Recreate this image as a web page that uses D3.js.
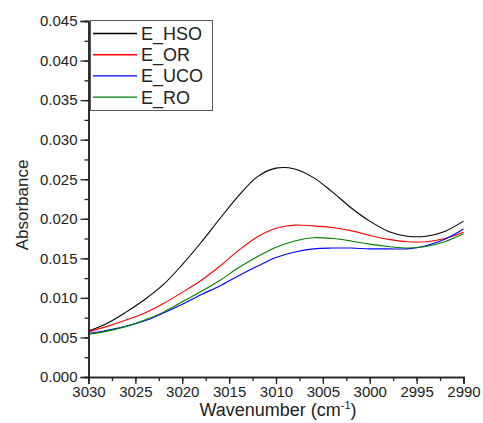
<!DOCTYPE html>
<html>
<head>
<meta charset="utf-8">
<script src="https://cdn.jsdelivr.net/npm/d3@7"></script>
<style>
  body { margin: 0; background: #fff; }
  svg text { font-family: "Liberation Sans", Arial, Helvetica, sans-serif; fill: #222; }
</style>
</head>
<body>
<svg id="chart" width="483" height="423"></svg>
<script>
// wavenumbers (cm-1)
var wavenumbers = [3030, 3028, 3026, 3024, 3022, 3020, 3018, 3016, 3014, 3012, 3010,
                   3008, 3006, 3004, 3002, 3000, 2998, 2996, 2994, 2992, 2990];

var hso = [0.0058, 0.0068, 0.0082, 0.0098, 0.0117, 0.0142, 0.0170, 0.0200, 0.0229, 0.0253, 0.0264,
           0.0263, 0.0252, 0.0234, 0.0214, 0.0197, 0.0184, 0.0178, 0.0178, 0.0184, 0.0197];
var or  = [0.0057, 0.0064, 0.0072, 0.0081, 0.0093, 0.0107, 0.0122, 0.0140, 0.0160, 0.0177, 0.0188,
           0.0192, 0.0191, 0.0189, 0.0185, 0.0179, 0.0174, 0.0171, 0.0171, 0.0175, 0.0183];
var uco = [0.0055, 0.0059, 0.0064, 0.0071, 0.0081, 0.0092, 0.0104, 0.0115, 0.0128, 0.0140, 0.0151,
           0.0158, 0.0162, 0.0163, 0.0163, 0.0162, 0.0162, 0.0162, 0.0166, 0.0174, 0.0187];
var ro  = [0.0054, 0.0058, 0.0064, 0.0072, 0.0082, 0.0095, 0.0108, 0.0122, 0.0138, 0.0152, 0.0164,
           0.0172, 0.0176, 0.0175, 0.0172, 0.0168, 0.0165, 0.0163, 0.0165, 0.0171, 0.0181];

var seriesNames = ["E_HSO", "E_OR", "E_UCO", "E_RO"];
var seriesColors = ["#000000", "#ff0000", "#0000ff", "#008000"];
var yTicks = [0, 0.005, 0.01, 0.015, 0.02, 0.025, 0.03, 0.035, 0.04, 0.045];
var xTicks = [3030, 3025, 3020, 3015, 3010, 3005, 3000, 2995, 2990];

var svg = d3.select("#chart");
var plotL = 88.5, plotR = 463.5, plotT = 21, plotB = 377;

var x = d3.scaleLinear().domain([3030, 2990]).range([plotL, plotR]);
var y = d3.scaleLinear().domain([0, 0.045]).range([plotB, plotT]);

var allSeries = [hso, or, uco, ro];
var line = d3.line()
    .x(function(d){ return x(d[0]); })
    .y(function(d){ return y(d[1]); })
    .curve(d3.curveCatmullRom.alpha(0.5));

// curves
allSeries.forEach(function(vals, i){
    svg.append("path")
        .datum(wavenumbers.map(function(w, j){ return [w, vals[j]]; }))
        .attr("d", line)
        .attr("fill", "none")
        .attr("stroke", seriesColors[i])
        .attr("stroke-width", 1.1);
});

// minor ticks (no labels)
var yMinor = d3.range(0, 0.0451, 0.0025);
var xMinor = d3.range(3030, 2989, -2.5);

var yAxis = svg.append("g").attr("transform", "translate(" + plotL + ",0)");
yAxis.call(d3.axisLeft(y).tickValues(yMinor).tickSize(4).tickFormat(""));
yAxis.append("g").call(d3.axisLeft(y).tickValues(yTicks).tickSize(8).tickPadding(3).tickFormat(d3.format(".3f")));

var xAxis = svg.append("g").attr("transform", "translate(0," + plotB + ")");
xAxis.call(d3.axisBottom(x).tickValues(xMinor).tickSize(4).tickFormat(""));
xAxis.append("g").call(d3.axisBottom(x).tickValues(xTicks).tickSize(7).tickPadding(2).tickFormat(d3.format("d")));

svg.selectAll(".domain").attr("stroke", "#222").attr("stroke-width", 1.5);
svg.selectAll(".tick line").attr("stroke", "#222").attr("stroke-width", 1.3);
svg.selectAll(".tick text").attr("font-size", 15).attr("fill", "#222")
    .attr("font-family", "'Liberation Sans', Arial, sans-serif");

// axis titles
svg.append("text")
    .attr("transform", "translate(28," + ((plotT + plotB) / 2 + 6) + ") rotate(-90)")
    .attr("text-anchor", "middle")
    .attr("font-size", 17)
    .text("Absorbance");

var xt = svg.append("text")
    .attr("x", (plotL + plotR) / 2 + 2)
    .attr("y", 416)
    .attr("text-anchor", "middle")
    .attr("font-size", 18);
xt.append("tspan").text("Wavenumber (cm");
xt.append("tspan").attr("font-size", 11).attr("dy", -7).text("-1");
xt.append("tspan").attr("dy", 7).text(")");

// legend
var legend = svg.append("g");
legend.append("rect")
    .attr("x", 90.5).attr("y", 20.5)
    .attr("width", 122).attr("height", 90)
    .attr("fill", "#fff").attr("stroke", "#555").attr("stroke-width", 1);

seriesNames.forEach(function(name, i){
    var ly = 33.5 + i * 21.2;
    legend.append("line")
        .attr("x1", 93).attr("x2", 137)
        .attr("y1", ly).attr("y2", ly)
        .attr("stroke", seriesColors[i]).attr("stroke-width", 1.4);
    legend.append("text")
        .attr("x", 141).attr("y", ly + 6.5)
        .attr("font-size", 18)
        .text(name);
});
</script>
</body>
</html>
